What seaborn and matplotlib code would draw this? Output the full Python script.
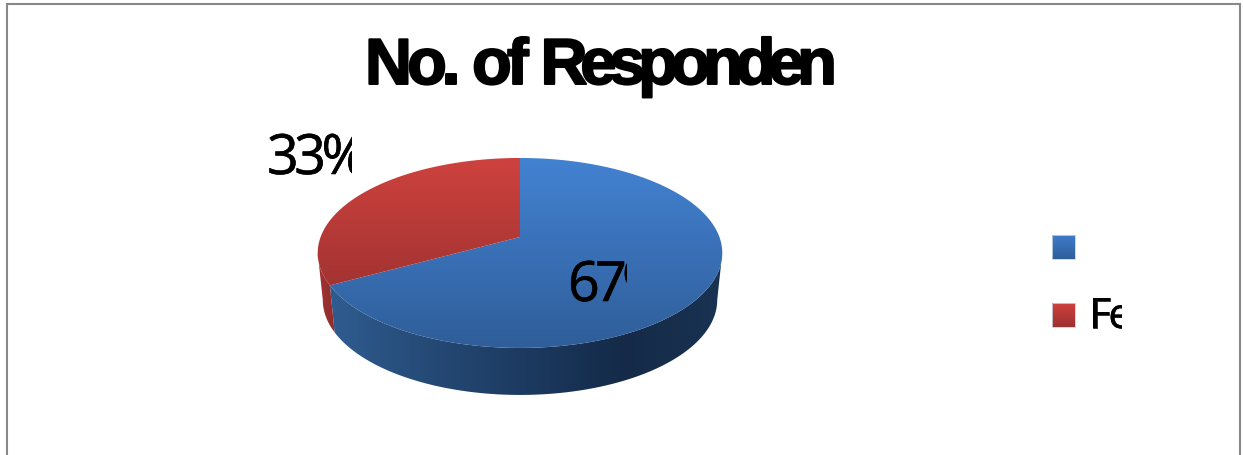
import numpy as np
import matplotlib
matplotlib.use("Agg")
import matplotlib.pyplot as plt
import matplotlib.text as mtext
import matplotlib.patheffects as pe
from matplotlib.font_manager import FontProperties, findfont, get_font
from matplotlib.ft2font import LoadFlags
from matplotlib.patches import Polygon, Rectangle
from matplotlib.transforms import Bbox, IdentityTransform
import seaborn as sns

# Chart content
title = "No. of Responden"
shares = [67, 33]
share_labels = ["67%", "33%"]
legend_labels = ["", "Fe"]

# Gradient colours for each slice
top_colors = [["#4382D2", "#2F5E99"], ["#CE423E", "#8E2C2C"]]
wall_colors = [["#2F5C90", "#254A76", "#1C3A60", "#142A48", "#1A3352"], ["#A53333", "#8E2C2C"]]
swatch_colors = [["#3F7CCB", "#2F5E99"], ["#CE423E", "#9C3030"]]

W, H = 1243, 456
sns.set_theme(style="white")
fig = plt.figure(figsize=(W / 100, H / 100), dpi=100, facecolor="white")
ax = fig.add_axes([0, 0, 1, 1])
ax.set_axis_off()


class TrackedText(mtext.Text):
    """Single text whose glyphs are set with custom letter spacing.

    `tracking` holds one spacing per word; `space_extra` widens word gaps.
    """

    def __init__(self, *args, tracking=(0.0,), space_extra=0.0, right_clip=None, embolden=0.0, **kwargs):
        super().__init__(*args, **kwargs)
        self.tracking = tracking
        self.space_extra = space_extra
        self.right_clip = right_clip
        self.embolden = embolden

    def draw(self, renderer):
        x, y = self.get_transform().transform(self.get_position())
        fp = self.get_fontproperties()
        font = get_font(findfont(fp))
        word = 0
        for ch in self.get_text():
            glyph = mtext.Text(x, y, ch, fontproperties=fp, color=self.get_color(),
                               transform=IdentityTransform(), va="baseline", ha="left")
            glyph.set_figure(self.figure)
            if self.embolden:
                glyph.set_path_effects([pe.withStroke(linewidth=self.embolden, foreground=self.get_color())])
            if self.right_clip is not None:
                glyph.set_clip_box(Bbox([[0, 0], [self.right_clip, H]]))
                glyph.set_clip_on(True)
            if ch != " ":
                glyph.draw(renderer)
            # The font object is shared with the renderer, so size it for every measurement
            font.set_size(fp.get_size_in_points(), self.figure.dpi)
            adv = font.load_char(ord(ch), flags=LoadFlags.NO_HINTING).linearHoriAdvance / 65536
            x += adv + self.tracking[min(word, len(self.tracking) - 1)]
            if ch == " ":
                x += self.space_extra
                word += 1


def put_text(x, y, s, size, family, weight="normal", **kwargs):
    t = TrackedText(x, y, s, color="black", transform=ax.transData,
                    fontproperties=FontProperties(family=family, size=size, weight=weight), **kwargs)
    ax.add_artist(t)
    return t


def gradient_fill(verts, colors, extent, horizontal=False, zorder=2):
    """Fill a polygon with a linear gradient from a seaborn colour blend."""
    cmap = sns.blend_palette(colors, n_colors=256, as_cmap=True)
    ramp = np.linspace(0, 1, 256)
    data = ramp[None, :] if horizontal else ramp[:, None]
    patch = Polygon(verts, closed=True, facecolor="none", edgecolor="none", transform=ax.transData)
    ax.add_patch(patch)
    im = ax.imshow(data, cmap=cmap, vmin=0, vmax=1, extent=extent, origin="upper",
                   aspect="auto", interpolation="bilinear", zorder=zorder)
    im.set_clip_path(patch)


# Disc geometry: a tilted circle under a perspective projection
cx, apex_y = 520.0, 238.0
persp = 0.168
half_w, half_h = 199.4, 92.3
depth = 47.0
base_inset = 0.975  # the underside of the disc sits slightly narrower than the top


def project(deg):
    t = np.radians(deg)
    d = 1 + persp * np.sin(t)
    return cx + half_w * np.cos(t) / d, apex_y - half_h * np.sin(t) / d


# Slice angles run clockwise from twelve o'clock
fractions = np.array(shares, dtype=float) / np.sum(shares)
edges = 90 - 360 * np.concatenate([[0], np.cumsum(fractions)])
silhouette = np.degrees(np.arcsin(persp))
front_lo, front_hi = 180 + silhouette, 360 - silhouette

top_extent = (300, 740, 349, 159)
wall_extent = (330, 722, 400, 240)
for i in range(len(shares)):
    hi, lo = edges[i], edges[i + 1]
    if lo < front_lo - 180:  # bring the span onto the front-facing angle range
        lo, hi = lo + 360, hi + 360
    a0, a1 = max(lo, front_lo), min(hi, front_hi)
    if a1 > a0:
        arc = np.linspace(a0, a1, 120)
        xs, ys = project(arc)
        under_x = cx + (xs - cx) * base_inset
        wall = np.r_[np.c_[xs, ys], np.c_[under_x, ys + depth][::-1]]
        ext = wall_extent if i == 0 else (316, 336, 340, 250)
        gradient_fill(wall, wall_colors[i], ext, horizontal=True, zorder=2)

for i in range(len(shares)):
    arc = np.linspace(edges[i], edges[i + 1], 240)
    xs, ys = project(arc)
    top = np.r_[[[cx, apex_y]], np.c_[xs, ys]]
    gradient_fill(top, top_colors[i], top_extent, zorder=3)

# Title and slice labels
put_text(365, 85, title, 46.8, "Liberation Sans", weight="bold", tracking=(-4.8, -4.8, -7.2),
         space_extra=3.5, right_clip=837, embolden=1.4)
put_text(568, 302, share_labels[0], 40, "Open Sans", tracking=(-4.7,), right_clip=627, embolden=0.4)
put_text(267, 175, share_labels[1], 40, "Open Sans", tracking=(-4.5,), right_clip=352, embolden=0.4)

# Legend swatches and entries
swatch_tops = [236, 304]
for i, y0 in enumerate(swatch_tops):
    corners = [(1052, y0), (1075, y0), (1075, y0 + 24), (1052, y0 + 24)]
    gradient_fill(corners, swatch_colors[i], (1052, 1075, y0 + 24, y0), zorder=3)
    ax.add_patch(Rectangle((1052, y0), 23, 24, facecolor="none", edgecolor="#C9D3DF",
                           linewidth=0.6, zorder=4))
    if legend_labels[i]:
        put_text(1089, y0 + 25, legend_labels[i], 30, "Open Sans", tracking=(-2,), right_clip=1122, embolden=0.4)

# Outer frame, open along the bottom edge
ax.plot([7, 7, 1240, 1240], [H, 5, 5, H], color="#888888", linewidth=1.5,
        solid_joinstyle="miter", zorder=5)

ax.set_xlim(0, W)
ax.set_ylim(H, 0)
fig.savefig("out.png", dpi=100, facecolor="white")
